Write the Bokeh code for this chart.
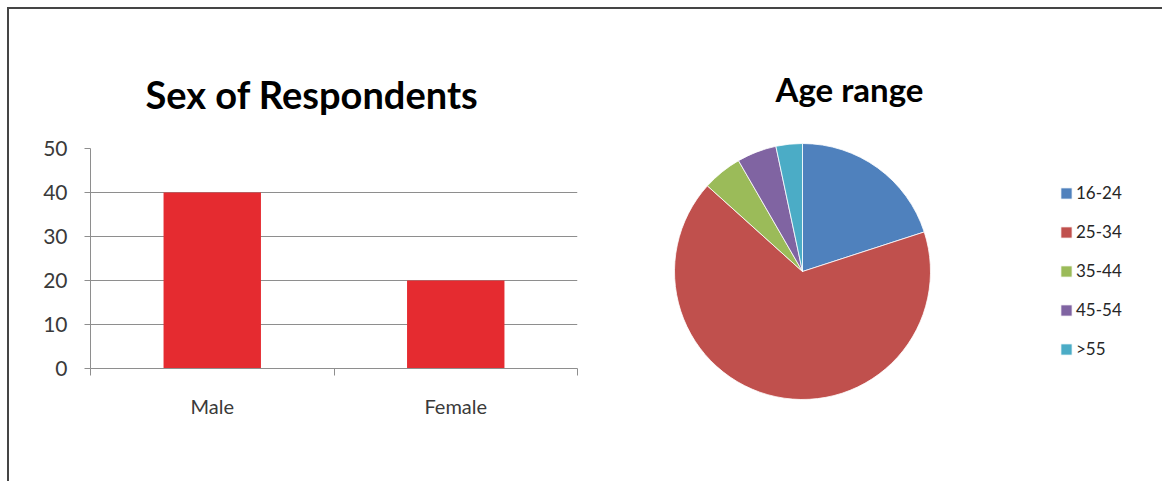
import numpy as np
from bokeh.plotting import figure
from bokeh.layouts import row, column
from bokeh.models import Range1d, FixedTicker, Div, Legend, LegendItem, ColumnDataSource, Title
from bokeh.core.properties import value
from bokeh.embed import file_html
from bokeh.resources import INLINE

# ---- data ----
sex_categories = ["Male", "Female"]
sex_counts = [40, 20]
y_ticks = [0, 10, 20, 30, 40, 50]

age_labels = ["16-24", "25-34", "35-44", "45-54", ">55"]
age_counts = [12, 40, 3, 3, 2]
age_colors = ["#4F81BD", "#C0504D", "#9BBB59", "#8064A2", "#4BACC6"]

FONT = "Lato"
GRID = "#8e8e8e"
TXT = "#3a3a3a"

# ---- left: bar chart ----
n = len(sex_categories)
centers = [i + 0.5 for i in range(n)]
p1 = figure(width=591, height=472, output_backend="svg", toolbar_location=None,
            x_range=Range1d(0, n), y_range=Range1d(0, 50),
            min_border_left=81, min_border_right=23, min_border_top=139, min_border_bottom=113,
            frame_align=False, margin=0)
p1.title = None
p1.add_layout(Title(text="Sex of Respondents", align="left", text_font=FONT,
                    text_font_size="38px", text_font_style="bold", text_color="#000000",
                    standoff=63, offset=55), "above")
p1.outline_line_color = None
p1.vbar(x=centers, top=sex_counts, width=0.4, color="#E52B30", line_color=None)

p1.xgrid.visible = False
p1.ygrid.grid_line_color = GRID
p1.ygrid.ticker = FixedTicker(ticks=y_ticks)

ya = p1.yaxis[0]
ya.ticker = FixedTicker(ticks=y_ticks, minor_ticks=[])
ya.axis_line_color = GRID
ya.major_tick_line_color = GRID
ya.major_tick_out = 6
ya.major_tick_in = 0
ya.minor_tick_line_color = None
ya.major_label_text_font = FONT
ya.major_label_text_font_size = "21px"
ya.major_label_text_color = TXT
ya.major_label_standoff = 17

xa = p1.xaxis[0]
xa.ticker = FixedTicker(ticks=centers, minor_ticks=list(range(n + 1)))
xa.major_label_overrides = {c: s for c, s in zip(centers, sex_categories)}
xa.axis_line_color = GRID
xa.major_tick_line_color = None
xa.major_tick_out = 0
xa.major_tick_in = 0
xa.minor_tick_line_color = GRID
xa.minor_tick_out = 7
xa.minor_tick_in = 0
xa.major_label_text_font = FONT
xa.major_label_text_font_size = "20px"
xa.major_label_text_color = TXT
xa.major_label_standoff = 18

# ---- right: pie chart ----
p2 = figure(width=562, height=472, output_backend="svg", toolbar_location=None,
            x_range=Range1d(0, 562), y_range=Range1d(0, 472),
            min_border=0, min_border_left=0, min_border_right=0,
            min_border_top=0, min_border_bottom=0, frame_align=False, margin=0)
p2.axis.visible = False
p2.grid.visible = False
p2.outline_line_color = None

counts = np.array(age_counts, dtype=float)
frac = counts / counts.sum()
cum_end = np.cumsum(frac)
cum_start = cum_end - frac
src = ColumnDataSource(dict(
    label=age_labels, color=age_colors,
    start=np.pi / 2 - cum_end * 2 * np.pi,
    end=np.pi / 2 - cum_start * 2 * np.pi,
))
wr = p2.wedge(x=202, y=210, radius=128, start_angle="start", end_angle="end",
              fill_color="color", line_color="white", line_width=0.8, source=src)

p2.text(x=[249], y=[393], text=["Age range"], text_font=value(FONT),
        text_font_size="33px", text_font_style="bold", text_color="#000000",
        text_align="center", text_baseline="middle")

legend = Legend(items=[LegendItem(label=lab, renderers=[wr], index=i) for i, lab in enumerate(age_labels)],
                location=(459, 122))
legend.glyph_width = 14
legend.glyph_height = 14
legend.label_height = 20
legend.spacing = 18
legend.padding = 0
legend.margin = 0
legend.label_standoff = 3
legend.border_line_color = None
legend.background_fill_alpha = 0
legend.label_text_font = FONT
legend.label_text_font_size = "17px"
legend.label_text_color = "#262626"
p2.add_layout(legend, "center")

# ---- frame lines (top and left) ----
BORDER = "#454545"
top_line = Div(width=1155, height=2, margin=0, styles={"background-color": BORDER})
left_line = Div(width=2, height=472, margin=0, styles={"background-color": BORDER})
pad_top = Div(width=1162, height=7, margin=0)
pad_left = Div(width=7, height=474, margin=0)

layout = column(pad_top, row(pad_left, column(top_line, row(left_line, p1, p2, margin=0), margin=0), margin=0), margin=0)

open("out.html", "w").write(file_html(layout, INLINE))
